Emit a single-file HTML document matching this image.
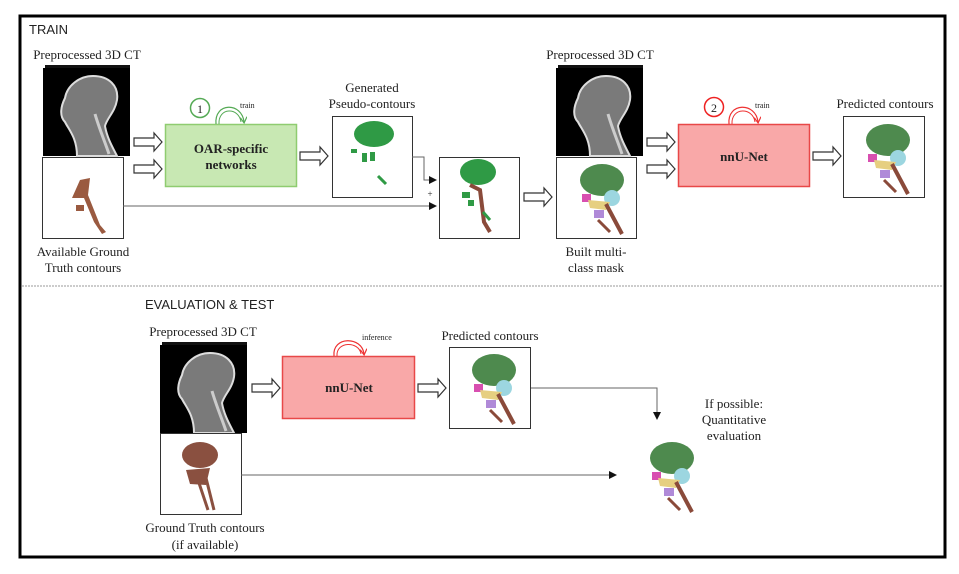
<!DOCTYPE html>
<html><head><meta charset="utf-8"><style>
html,body{margin:0;padding:0;background:#fff;}
svg{display:block;}
text{font-family:"Liberation Serif",serif;fill:#222;}
.s{font-family:"Liberation Sans",sans-serif;}
</style></head><body>
<svg width="959" height="574" viewBox="0 0 959 574" xmlns="http://www.w3.org/2000/svg">
<defs>
<marker id="ah" markerWidth="8" markerHeight="8" refX="7" refY="4" orient="auto" markerUnits="userSpaceOnUse"><path d="M0,0 L8,4 L0,8 Z" fill="#111"/></marker>
<marker id="ar" markerWidth="7" markerHeight="7" refX="5" refY="3.5" orient="auto" markerUnits="userSpaceOnUse"><path d="M0,0 L6,3.5 L0,7" fill="none" stroke="#e33" stroke-width="1.2"/></marker>
<marker id="ag" markerWidth="7" markerHeight="7" refX="5" refY="3.5" orient="auto" markerUnits="userSpaceOnUse"><path d="M0,0 L6,3.5 L0,7" fill="none" stroke="#5a5" stroke-width="1.2"/></marker>
<g id="ct">
<rect x="2" y="-3" width="85" height="88" fill="#111"/>
<rect x="0" y="0" width="87" height="88" fill="#000"/>
<path d="M34,88 C34,70 26,62 22,54 C16,48 18,38 22,30 C24,18 36,8 50,8 C66,8 76,18 74,32 C72,44 64,50 62,58 C64,70 70,80 74,88 Z" fill="#7a7a7a" stroke="#ddd" stroke-width="2"/>
<path d="M52,46 C56,60 62,74 66,86" stroke="#ccc" stroke-width="3" fill="none"/>
</g>
<g id="hollow"><path d="M0,-4 L20,-4 L20,-9 L28,0 L20,9 L20,4 L0,4 Z" fill="#fff" stroke="#333" stroke-width="1.2"/></g>
<g id="mc">
<ellipse cx="42" cy="20" rx="22" ry="16" fill="#4e8a4e"/>
<circle cx="52" cy="38" r="8" fill="#9cd6e0"/>
<rect x="22" y="34" width="9" height="8" fill="#d84fb0"/>
<path d="M28,40 L50,42 L46,50 L30,48 Z" fill="#e6cf80"/>
<rect x="34" y="50" width="10" height="8" fill="#b08ad8"/>
<path d="M46,44 L62,74" stroke="#8a4a3a" stroke-width="4"/>
<path d="M38,60 L50,72" stroke="#8a4a3a" stroke-width="3"/>
</g>
</defs>
<rect x="20" y="16" width="925" height="541" fill="#fff" stroke="#000" stroke-width="3"/>
<line x1="22" y1="286" x2="943" y2="286" stroke="#999" stroke-width="1" stroke-dasharray="2,1"/>
<text x="29" y="34" class="s" font-size="13" fill="#111">TRAIN</text>

<text x="87" y="59" font-size="13" text-anchor="middle">Preprocessed 3D CT</text>
<use href="#ct" x="43" y="68"/>
<rect x="42.5" y="157.5" width="81" height="81" fill="#fff" stroke="#333"/>
<path d="M80,180 L90,178 L88,195 L100,225 L106,232 L102,234 L94,222 L84,198 L72,198 Z" fill="#9a5a40"/>
<rect x="76" y="205" width="8" height="6" fill="#9a5a40"/>
<text x="83" y="256" font-size="13" text-anchor="middle">Available  Ground</text>
<text x="83" y="272" font-size="13" text-anchor="middle">Truth contours</text>
<use href="#hollow" x="134" y="142"/>
<use href="#hollow" x="134" y="169"/>
<rect x="165.5" y="124.5" width="131" height="62" fill="#c8e8b3" stroke="#8fcc70" stroke-width="1.5"/>
<text x="231" y="153" font-size="13" text-anchor="middle" font-weight="bold" fill="#333">OAR-specific</text>
<text x="231" y="169" font-size="13" text-anchor="middle" font-weight="bold" fill="#333">networks</text>
<circle cx="200" cy="108" r="9.5" fill="#fff" stroke="#5a5" stroke-width="1.5"/>
<text x="200" y="113" font-size="12" text-anchor="middle">1</text>
<path d="M216,124 C214,102 242,102 244,122" fill="none" stroke="#5a5" stroke-width="1.2" marker-end="url(#ag)"/>
<path d="M219,124 C218,107 239,107 241,122" fill="none" stroke="#5a5" stroke-width="1"/>
<text x="240" y="108" font-size="8">train</text>

<text x="372" y="92" font-size="13" text-anchor="middle">Generated</text>
<text x="372" y="108" font-size="13" text-anchor="middle">Pseudo-contours</text>
<use href="#hollow" x="300" y="156"/>
<rect x="332.5" y="116.5" width="80" height="81" fill="#fff" stroke="#333"/>
<ellipse cx="374" cy="134" rx="20" ry="13" fill="#2f9a45"/>
<rect x="351" y="149" width="6" height="4" fill="#2f9a45"/>
<rect x="362" y="153" width="5" height="9" fill="#2f9a45"/>
<rect x="370" y="152" width="5" height="9" fill="#2f9a45"/>
<path d="M378,176 L386,184" stroke="#2f9a45" stroke-width="3"/>
<polyline points="412,157 424,157 424,180 436,180" fill="none" stroke="#666" marker-end="url(#ah)"/>
<text x="430" y="197" font-size="9" text-anchor="middle">+</text>
<line x1="123" y1="206" x2="436" y2="206" stroke="#666" marker-end="url(#ah)"/>
<rect x="439.5" y="157.5" width="80" height="81" fill="#fff" stroke="#333"/>
<ellipse cx="478" cy="172" rx="18" ry="13" fill="#2f9a45"/>
<path d="M470,185 L480,190 L484,222 L490,232" stroke="#8a4a3a" stroke-width="4" fill="none"/>
<rect x="462" y="192" width="8" height="6" fill="#2f9a45"/>
<rect x="468" y="200" width="6" height="6" fill="#2f9a45"/>
<path d="M483,212 L490,220" stroke="#2f9a45" stroke-width="3"/>
<use href="#hollow" x="524" y="197"/>

<text x="600" y="59" font-size="13" text-anchor="middle">Preprocessed 3D CT</text>
<use href="#ct" x="556" y="68"/>
<rect x="556.5" y="157.5" width="80" height="81" fill="#fff" stroke="#333"/>
<use href="#mc" x="560" y="160"/>
<text x="596" y="256" font-size="13" text-anchor="middle">Built  multi-</text>
<text x="596" y="272" font-size="13" text-anchor="middle">class mask</text>
<use href="#hollow" x="647" y="142"/>
<use href="#hollow" x="647" y="169"/>
<rect x="678.5" y="124.5" width="131" height="62" fill="#f9a8a8" stroke="#e84848" stroke-width="1.5"/>
<text x="744" y="161" font-size="13" text-anchor="middle" font-weight="bold" fill="#333">nnU-Net</text>
<circle cx="714" cy="107" r="9.5" fill="#fff" stroke="#e22" stroke-width="1.5"/>
<text x="714" y="112" font-size="12" text-anchor="middle">2</text>
<path d="M729,124 C727,102 756,102 758,122" fill="none" stroke="#e33" stroke-width="1.2" marker-end="url(#ar)"/>
<path d="M732,124 C731,107 753,107 755,122" fill="none" stroke="#e33" stroke-width="1"/>
<text x="755" y="108" font-size="8">train</text>
<use href="#hollow" x="813" y="156"/>
<text x="885" y="108" font-size="13" text-anchor="middle">Predicted contours</text>
<rect x="843.5" y="116.5" width="81" height="81" fill="#fff" stroke="#333"/>
<use href="#mc" x="846" y="120"/>

<text x="145" y="309" class="s" font-size="13" fill="#111">EVALUATION &amp; TEST</text>
<text x="203" y="336" font-size="13" text-anchor="middle">Preprocessed 3D CT</text>
<use href="#ct" x="160" y="345"/>
<rect x="160.5" y="433.5" width="81" height="81" fill="#fff" stroke="#333"/>
<ellipse cx="200" cy="455" rx="18" ry="13" fill="#8a5040"/>
<path d="M186,470 L210,468 L206,485 L190,484 Z" fill="#8a5040"/>
<path d="M204,470 L214,510 M198,480 L208,510" stroke="#8a5040" stroke-width="3"/>
<text x="205" y="532" font-size="13" text-anchor="middle">Ground Truth contours</text>
<text x="205" y="549" font-size="13" text-anchor="middle">(if available)</text>
<use href="#hollow" x="252" y="388"/>
<rect x="282.5" y="356.5" width="132" height="62" fill="#f9a8a8" stroke="#e84848" stroke-width="1.5"/>
<text x="349" y="392" font-size="13" text-anchor="middle" font-weight="bold" fill="#333">nnU-Net</text>
<path d="M334,356 C332,336 362,336 364,354" fill="none" stroke="#e33" stroke-width="1.2" marker-end="url(#ar)"/>
<path d="M337,356 C336,341 359,341 361,354" fill="none" stroke="#e33" stroke-width="1"/>
<text x="362" y="340" font-size="8">inference</text>
<use href="#hollow" x="418" y="388"/>
<text x="490" y="340" font-size="13" text-anchor="middle">Predicted contours</text>
<rect x="449.5" y="347.5" width="81" height="81" fill="#fff" stroke="#333"/>
<use href="#mc" x="452" y="350"/>
<polyline points="531,388 657,388 657,419" fill="none" stroke="#666" marker-end="url(#ah)"/>
<line x1="241" y1="475" x2="616" y2="475" stroke="#666" marker-end="url(#ah)"/>
<use href="#mc" x="630" y="438"/>
<text x="734" y="408" font-size="13" text-anchor="middle">If possible:</text>
<text x="734" y="424" font-size="13" text-anchor="middle">Quantitative</text>
<text x="734" y="440" font-size="13" text-anchor="middle">evaluation</text>
</svg>
</body></html>
